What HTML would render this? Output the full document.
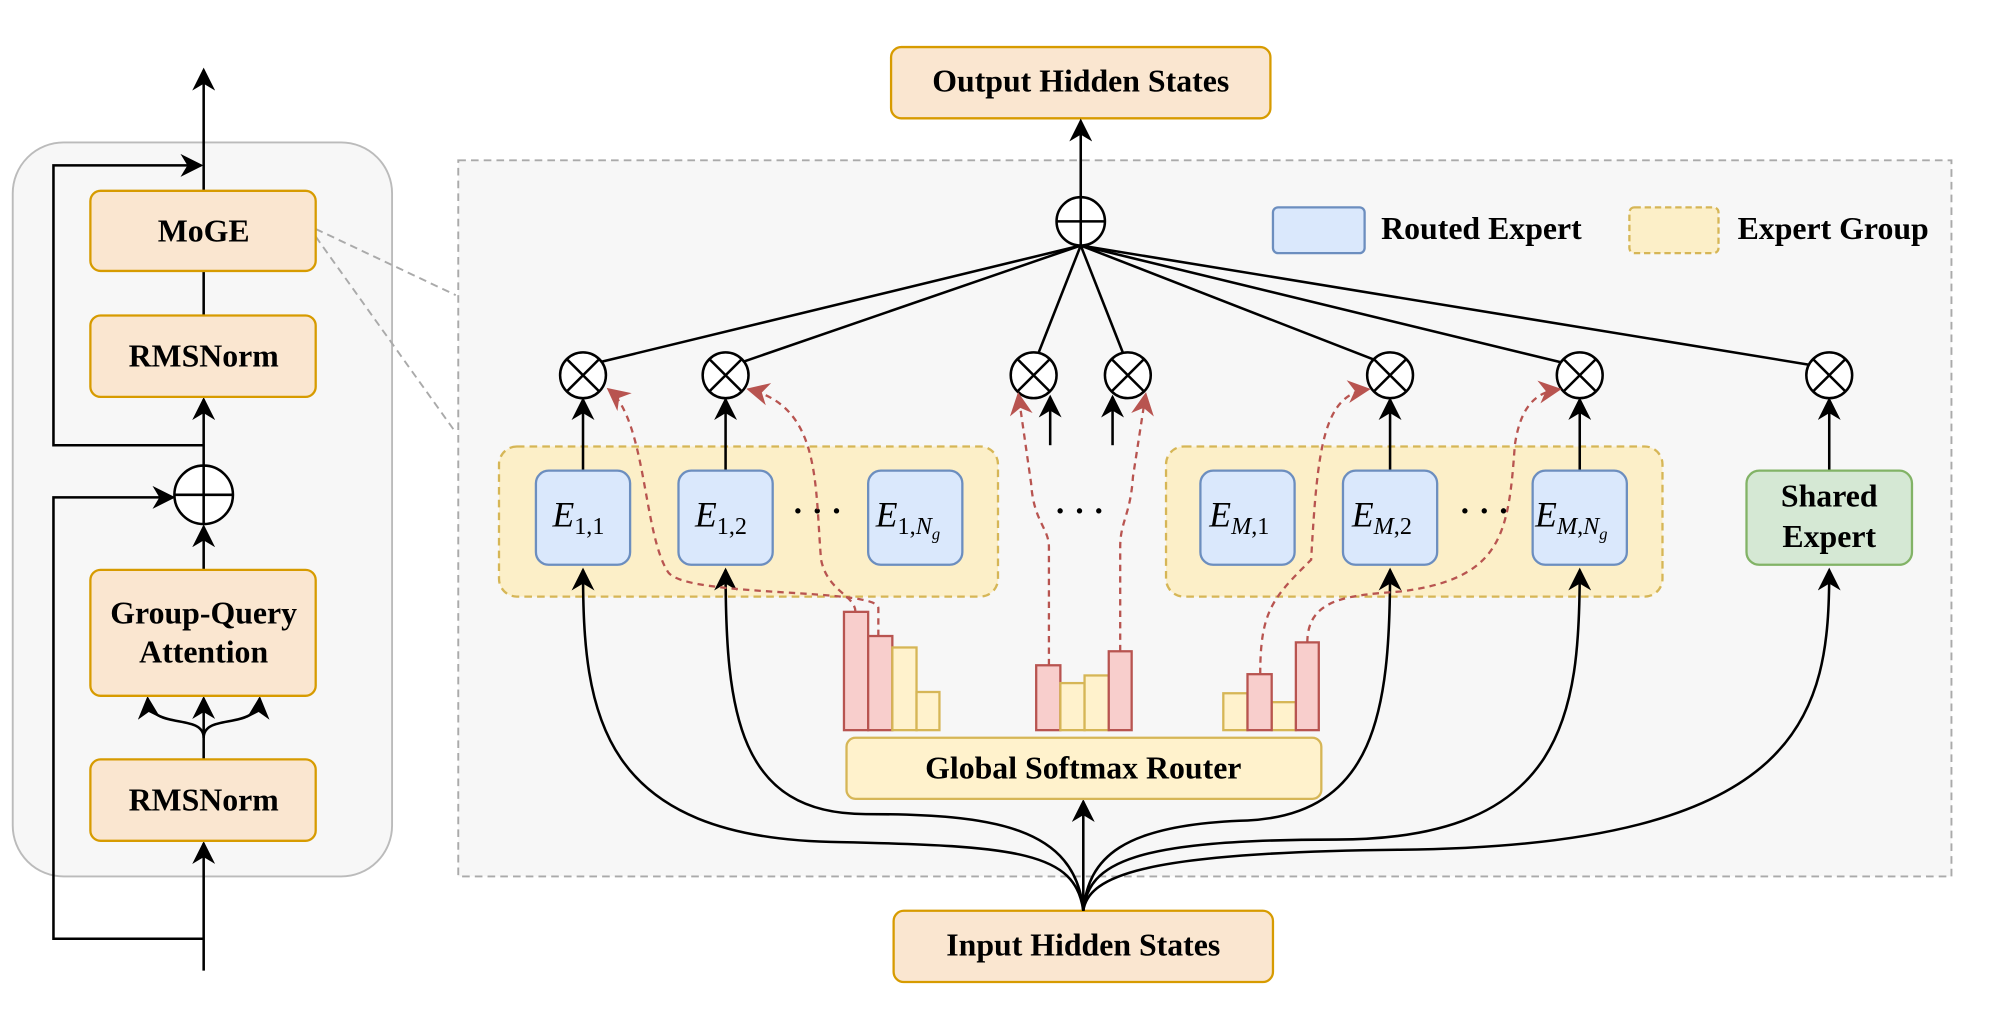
<!DOCTYPE html>
<html><head><meta charset="utf-8"><style>html,body{margin:0;padding:0;background:#fff}svg{display:block}</style></head>
<body>
<svg width="1996" height="1010" viewBox="0 0 1568 794" preserveAspectRatio="none" xmlns="http://www.w3.org/2000/svg" font-family="Liberation Serif, serif">
<defs>
<marker id="ab" viewBox="0 0 10 10" refX="9" refY="5" markerWidth="18" markerHeight="18" orient="auto" markerUnits="userSpaceOnUse"><path d="M0,0 L10,5 L0,10 L3,5 z" fill="#000"/></marker>
<marker id="r" viewBox="0 0 10 10" refX="9" refY="5" markerWidth="18" markerHeight="18" orient="auto" markerUnits="userSpaceOnUse"><path d="M0,0 L10,5 L0,10 L3,5 z" fill="#b85450"/></marker>
</defs>
<rect x="10" y="112" width="298" height="577" rx="40" fill="#f7f7f7" stroke="#bbb" stroke-width="1.5"/>
<line x1="248" y1="180" x2="358" y2="232" stroke="#aaa" stroke-width="1.5" stroke-dasharray="6,4"/>
<line x1="248" y1="186" x2="358" y2="340" stroke="#aaa" stroke-width="1.5" stroke-dasharray="6,4"/>
<g stroke="#000" stroke-width="2" fill="none">
<line x1="160" y1="763" x2="160" y2="663" marker-end="url(#ab)"/>
<line x1="160" y1="597" x2="160" y2="549" marker-end="url(#ab)"/>
<path d="M160 580 C160 560 118 575 116 549" marker-end="url(#ab)"/>
<path d="M160 580 C160 560 202 575 204 549" marker-end="url(#ab)"/>
<line x1="160" y1="448" x2="160" y2="414" marker-end="url(#ab)"/>
<line x1="160" y1="366" x2="160" y2="314" marker-end="url(#ab)"/>
<line x1="160" y1="248" x2="160" y2="213"/>
<line x1="160" y1="150" x2="160" y2="55" marker-end="url(#ab)"/>
<path d="M160 738 L42 738 L42 391 L136 391" marker-end="url(#ab)"/>
<path d="M160 350 L42 350 L42 130 L158 130" marker-end="url(#ab)"/>
</g>
<circle cx="160" cy="389" r="23" fill="#fff" stroke="#000" stroke-width="2"/>
<path d="M137 389 H183 M160 366 V412" stroke="#000" stroke-width="2"/>
<g fill="#fae6d0" stroke="#d79b00" stroke-width="1.8">
<rect x="71" y="150" width="177" height="63" rx="8"/>
<rect x="71" y="248" width="177" height="64" rx="8"/>
<rect x="71" y="448" width="177" height="99" rx="8"/>
<rect x="71" y="597" width="177" height="64" rx="8"/>
<rect x="700" y="37" width="298" height="56" rx="8"/>
<rect x="702" y="716" width="298" height="56" rx="8"/>
</g>
<g font-weight="bold" font-size="25" text-anchor="middle">
<text x="160" y="190">MoGE</text>
<text x="160" y="288">RMSNorm</text>
<text x="160" y="490">Group-Query</text>
<text x="160" y="521">Attention</text>
<text x="160" y="637">RMSNorm</text>
<text x="849" y="72">Output Hidden States</text>
<text x="851" y="751">Input Hidden States</text>
</g>
<rect x="360" y="126" width="1173" height="563" fill="#f7f7f7" stroke="#aaa" stroke-width="1.5" stroke-dasharray="6,4"/>
<line x1="849" y1="155" x2="849" y2="95" stroke="#000" stroke-width="2" marker-end="url(#ab)"/>
<rect x="1000" y="163" width="72" height="36" rx="4" fill="#dae8fc" stroke="#6c8ebf" stroke-width="1.8"/>
<text x="1085" y="188" font-size="25" font-weight="bold">Routed Expert</text>
<rect x="1280" y="163" width="70" height="36" rx="4" fill="#fcefc8" stroke="#d6b656" stroke-width="1.8" stroke-dasharray="5,3"/>
<text x="1365" y="188" font-size="25" font-weight="bold">Expert Group</text>
<rect x="392" y="351" width="392" height="118" rx="14" fill="#fcefc8" stroke="#d6b656" stroke-width="1.8" stroke-dasharray="6,4"/>
<rect x="916" y="351" width="390" height="118" rx="14" fill="#fcefc8" stroke="#d6b656" stroke-width="1.8" stroke-dasharray="6,4"/>
<g stroke="#000" stroke-width="2">
<line x1="849" y1="193" x2="470" y2="285"/>
<line x1="849" y1="193" x2="582" y2="285"/>
<line x1="849" y1="193" x2="816" y2="277"/>
<line x1="849" y1="193" x2="882" y2="277"/>
<line x1="849" y1="193" x2="1080" y2="283"/>
<line x1="849" y1="193" x2="1227" y2="285"/>
<line x1="849" y1="193" x2="1423" y2="287"/>
</g>
<circle cx="849" cy="174" r="19" fill="#fff" stroke="#000" stroke-width="2"/>
<path d="M830 174 H868 M849 155 V193" stroke="#000" stroke-width="2"/>
<g stroke="#000" stroke-width="2">
<g transform="translate(458,295)"><circle r="18" fill="#fff"/><path d="M-12.7 -12.7 L12.7 12.7 M-12.7 12.7 L12.7 -12.7"/></g>
<g transform="translate(570,295)"><circle r="18" fill="#fff"/><path d="M-12.7 -12.7 L12.7 12.7 M-12.7 12.7 L12.7 -12.7"/></g>
<g transform="translate(812,295)"><circle r="18" fill="#fff"/><path d="M-12.7 -12.7 L12.7 12.7 M-12.7 12.7 L12.7 -12.7"/></g>
<g transform="translate(886,295)"><circle r="18" fill="#fff"/><path d="M-12.7 -12.7 L12.7 12.7 M-12.7 12.7 L12.7 -12.7"/></g>
<g transform="translate(1092,295)"><circle r="18" fill="#fff"/><path d="M-12.7 -12.7 L12.7 12.7 M-12.7 12.7 L12.7 -12.7"/></g>
<g transform="translate(1241,295)"><circle r="18" fill="#fff"/><path d="M-12.7 -12.7 L12.7 12.7 M-12.7 12.7 L12.7 -12.7"/></g>
<g transform="translate(1437,295)"><circle r="18" fill="#fff"/><path d="M-12.7 -12.7 L12.7 12.7 M-12.7 12.7 L12.7 -12.7"/></g>
</g>
<g stroke="#000" stroke-width="2" fill="none">
<line x1="458" y1="370" x2="458" y2="314" marker-end="url(#ab)"/>
<line x1="570" y1="370" x2="570" y2="314" marker-end="url(#ab)"/>
<line x1="1092" y1="370" x2="1092" y2="314" marker-end="url(#ab)"/>
<line x1="1241" y1="370" x2="1241" y2="314" marker-end="url(#ab)"/>
<line x1="1437" y1="370" x2="1437" y2="314" marker-end="url(#ab)"/>
<line x1="825" y1="350" x2="825" y2="312" marker-end="url(#ab)"/>
<line x1="874" y1="350" x2="874" y2="312" marker-end="url(#ab)"/>
<path d="M851 716 C845 670 800 665 660 662 C470 660 458 560 458 448" marker-end="url(#ab)"/>
<path d="M851 716 C845 650 780 640 680 640 C580 640 570 560 570 448" marker-end="url(#ab)"/>
<path d="M851 716 C855 675 880 648 980 645 C1080 640 1092 560 1092 448" marker-end="url(#ab)"/>
<path d="M851 716 C855 678 890 660 1050 660 C1230 660 1241 560 1241 448" marker-end="url(#ab)"/>
<path d="M851 716 C855 688 900 670 1100 668 C1420 665 1437 560 1437 448" marker-end="url(#ab)"/>
<line x1="851" y1="716" x2="851" y2="630" marker-end="url(#ab)"/>
</g>
<g fill="#dae8fc" stroke="#6c8ebf" stroke-width="1.8">
<rect x="421" y="370" width="74" height="74" rx="10"/>
<rect x="533" y="370" width="74" height="74" rx="10"/>
<rect x="682" y="370" width="74" height="74" rx="10"/>
<rect x="943" y="370" width="74" height="74" rx="10"/>
<rect x="1055" y="370" width="74" height="74" rx="10"/>
<rect x="1204" y="370" width="74" height="74" rx="10"/>
</g>
<rect x="1372" y="370" width="130" height="74" rx="10" fill="#d5e8d4" stroke="#82b366" stroke-width="1.8"/>
<text x="1437" y="398" font-size="25" font-weight="bold" text-anchor="middle">Shared</text>
<text x="1437" y="430" font-size="25" font-weight="bold" text-anchor="middle">Expert</text>
<g font-size="28" font-style="italic">
<text x="434" y="414">E<tspan font-style="normal" font-size="19" dy="6">1,1</tspan></text>
<text x="546" y="414">E<tspan font-style="normal" font-size="19" dy="6">1,2</tspan></text>
<text x="688" y="414">E<tspan font-style="normal" font-size="19" dy="6">1,</tspan><tspan font-size="19">N</tspan><tspan font-size="13" dy="4">g</tspan></text>
<text x="950" y="414">E<tspan font-size="19" dy="6">M</tspan><tspan font-style="normal" font-size="19">,1</tspan></text>
<text x="1062" y="414">E<tspan font-size="19" dy="6">M</tspan><tspan font-style="normal" font-size="19">,2</tspan></text>
<text x="1206" y="414">E<tspan font-size="19" dy="6">M</tspan><tspan font-style="normal" font-size="19">,</tspan><tspan font-size="19">N</tspan><tspan font-size="13" dy="4">g</tspan></text>
</g>
<g font-size="26" font-weight="bold" text-anchor="middle">
<text x="642" y="410">· · ·</text>
<text x="848" y="410">· · ·</text>
<text x="1166" y="410">· · ·</text>
</g>
<g stroke="#b85450" stroke-width="1.8" fill="none" stroke-dasharray="5,4">
<path d="M690 500 L690 478 C690 462 540 470 525 450 C505 420 508 330 478 306" marker-end="url(#r)"/>
<path d="M672 481 C672 468 650 465 645 440 C640 380 645 320 588 306" marker-end="url(#r)"/>
<path d="M824 523 L824 430 C824 415 812 410 810 380 L800 310" marker-end="url(#r)"/>
<path d="M880 512 L880 430 C880 410 888 405 890 375 L900 310" marker-end="url(#r)"/>
<path d="M990 530 C990 480 1000 470 1030 440 C1035 350 1040 310 1075 306" marker-end="url(#r)"/>
<path d="M1027 505 C1027 470 1060 468 1100 465 C1180 455 1185 420 1190 350 C1195 315 1210 308 1225 306" marker-end="url(#r)"/>
</g>
<g stroke-width="1.8">
<rect x="663" y="481" width="19" height="93" fill="#f8cecc" stroke="#b85450"/>
<rect x="682" y="500" width="19" height="74" fill="#f8cecc" stroke="#b85450"/>
<rect x="701" y="509" width="19" height="65" fill="#fff2cc" stroke="#d6b656"/>
<rect x="720" y="544" width="18" height="30" fill="#fff2cc" stroke="#d6b656"/>
<rect x="814" y="523" width="19" height="51" fill="#f8cecc" stroke="#b85450"/>
<rect x="833" y="537" width="19" height="37" fill="#fff2cc" stroke="#d6b656"/>
<rect x="852" y="531" width="19" height="43" fill="#fff2cc" stroke="#d6b656"/>
<rect x="871" y="512" width="18" height="62" fill="#f8cecc" stroke="#b85450"/>
<rect x="961" y="545" width="19" height="29" fill="#fff2cc" stroke="#d6b656"/>
<rect x="999" y="552" width="19" height="22" fill="#fff2cc" stroke="#d6b656"/>
<rect x="980" y="530" width="19" height="44" fill="#f8cecc" stroke="#b85450"/>
<rect x="1018" y="505" width="18" height="69" fill="#f8cecc" stroke="#b85450"/>
</g>
<rect x="665" y="580" width="373" height="48" rx="7" fill="#fff2cc" stroke="#d6b656" stroke-width="1.8"/>
<text x="851" y="612" font-size="25" font-weight="bold" text-anchor="middle">Global Softmax Router</text>
</svg>
</body></html>
